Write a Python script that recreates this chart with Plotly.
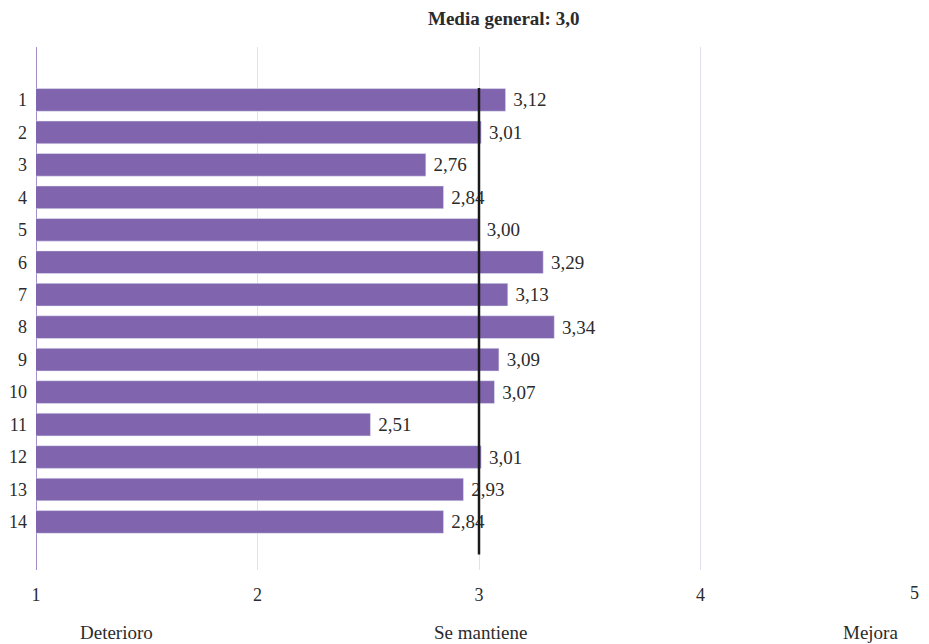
import plotly.graph_objects as go

categories = [str(i) for i in range(1, 15)]
values = [3.12, 3.01, 2.76, 2.84, 3.00, 3.29, 3.13, 3.34, 3.09, 3.07, 2.51, 3.01, 2.93, 2.84]
mean_value = 3.0
x_ticks = [1, 2, 3, 4, 5]
title_text = "Media general: 3,0"
bottom_labels = ["Deterioro", "Se mantiene", "Mejora"]

FONT = "Liberation Serif, DejaVu Serif, serif"
BAR = "#8064AE"
TXT = "#2b2b2b"

ypos = list(range(1, len(categories) + 1))
labels = [" " + f"{v:.2f}".replace(".", ",") for v in values]

# page is offset by the 8px body margin; size the figure to fit the window
OFF = 8
W, H = 929 - OFF, 644 - OFF
L, T = 36 - OFF, 47 - OFF
R = W - (922 - OFF)
B = H - (570 - OFF)
PW, PH = W - L - R, H - T - B

tick_text = [str(t) for t in x_ticks]
tick_text_shown = tick_text[:-1] + [""]  # last label drawn as annotation to keep it visible

fig = go.Figure()
fig.add_trace(go.Bar(
    y=ypos, x=values, orientation="h", marker_color=BAR, width=0.7,
    text=labels, textposition="outside", cliponaxis=False,
    textfont=dict(family=FONT, size=19, color=TXT), hoverinfo="skip",
))
fig.add_shape(type="line", xref="x", yref="y", x0=mean_value, x1=mean_value,
              y0=0.63, y1=15.0, line=dict(color="#1a1a1a", width=2.5), layer="above")

fig.update_layout(
    width=W, height=H, plot_bgcolor="white", paper_bgcolor="white",
    margin=dict(l=L, r=R, t=T, b=B, autoexpand=False), showlegend=False,
    font=dict(family=FONT, size=18, color=TXT),
    xaxis=dict(range=[1, 5], tickvals=x_ticks, ticktext=tick_text_shown,
               showgrid=True, gridcolor="#E3DFF0", gridwidth=1, zeroline=False,
               showline=False, ticks="", ticklabelstandoff=12, automargin=False,
               tickfont=dict(family=FONT, size=18, color=TXT)),
    yaxis=dict(range=[15.48, -0.63], tickvals=ypos, ticktext=categories,
               showgrid=False, zeroline=False, showline=False, ticks="", automargin=False,
               ticklabelstandoff=8, tickfont=dict(family=FONT, size=18, color=TXT)),
)
# axis line at x=1 (purple)
fig.add_shape(type="line", xref="x", yref="paper", x0=1, x1=1, y0=0, y1=1,
              line=dict(color="#A28FCB", width=2), layer="below")
fig.add_annotation(text=tick_text[-1], x=x_ticks[-1], xref="x", y=-(593 - 570) / PH, yref="paper",
                   showarrow=False, xanchor="right", yanchor="middle", xshift=-1,
                   font=dict(family=FONT, size=18, color=TXT))
fig.add_annotation(text="<b>" + title_text + "</b>", x=(503 - 36) / PW, y=1 + (47 - 18) / PH,
                   xref="paper", yref="paper", showarrow=False, xanchor="center", yanchor="middle",
                   font=dict(family=FONT, size=19, color=TXT))
for lab, px in zip(bottom_labels, [116, 481, 870]):
    fig.add_annotation(text=lab, x=(px - 36) / PW, y=-(632 - 570) / PH, xref="paper", yref="paper",
                       showarrow=False, xanchor="center", yanchor="middle",
                       font=dict(family=FONT, size=19, color=TXT))

fig.write_html("out.html")
